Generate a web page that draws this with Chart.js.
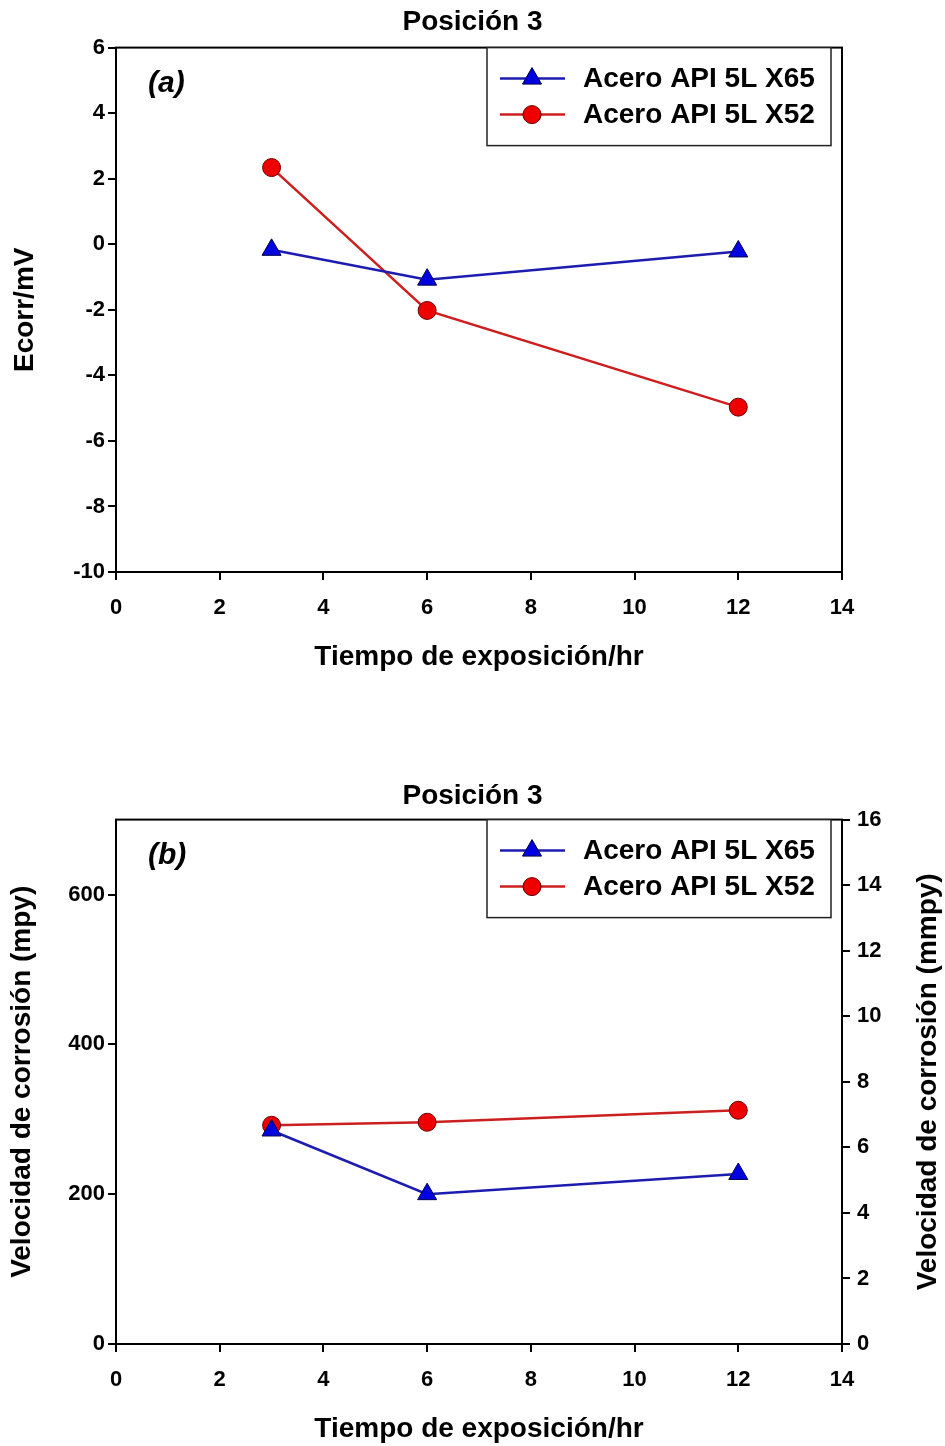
<!DOCTYPE html>
<html>
<head>
<meta charset="utf-8">
<title>Posición 3</title>
<script src="https://cdn.jsdelivr.net/npm/chart.js@4.4.0/dist/chart.umd.min.js"></script>
<style>
    body { margin: 0; background: #fff; }
    .panel { position: absolute; left: 0; width: 945px; height: 700px; }
</style>
</head>
<body>
<div class="panel" style="top: 0px;"><canvas id="chartA" width="945" height="700"></canvas></div>
<div class="panel" style="top: 746px;"><canvas id="chartB" width="945" height="700"></canvas></div>
<script>

// exposure times (hr)
const times = [3, 6, 12];
const seriesNames = ['Acero API 5L X65', 'Acero API 5L X52'];

// panel (a): Ecorr / mV
const ecorrX65 = [-0.17, -1.08, -0.22];
const ecorrX52 = [2.34, -2.02, -4.97];

// panel (b): corrosion rate / mpy
const rateX65 = [285, 200, 227];
const rateX52 = [292, 296, 312];

const SANS = '"Liberation Sans", Arial, sans-serif';
const tickFont = { family: SANS, size: 22, weight: 'bold' };
const titleFont = { family: SANS, size: 28, weight: 'bold' };

Chart.defaults.color = '#000';

function pairs(xs, ys) {
    return xs.map((x, i) => ({ x: x, y: ys[i] }));
}

function blueSet(values) {
    return {
        label: seriesNames[0],
        data: pairs(times, values),
        yAxisID: 'y',
        borderColor: '#1c1cb0',
        borderWidth: 2.5,
        pointStyle: 'triangle',
        pointRadius: 11,
        pointBackgroundColor: '#0000e0',
        pointBorderColor: '#00004a',
        pointBorderWidth: 1,
        tension: 0
    };
}

function redSet(values) {
    return {
        label: seriesNames[1],
        data: pairs(times, values),
        yAxisID: 'y',
        borderColor: '#cc1f1f',
        borderWidth: 2.5,
        pointStyle: 'circle',
        pointRadius: 9,
        pointBackgroundColor: '#ee0000',
        pointBorderColor: '#6a0000',
        pointBorderWidth: 1,
        tension: 0
    };
}

// frame, panel letter, boxed legend inside the plot and the upward right title
const framePlugin = {
    id: 'frame',
    afterDraw(chart, args, opts) {
        const ctx = chart.ctx;
        const a = chart.chartArea;
        ctx.save();
        ctx.strokeStyle = '#000';
        ctx.lineWidth = 2;
        ctx.strokeRect(a.left, a.top, a.right - a.left, a.bottom - a.top);

        ctx.fillStyle = '#000';
        ctx.font = 'italic bold 30px ' + SANS;
        ctx.textBaseline = 'middle';
        ctx.textAlign = 'left';
        ctx.fillText(opts.letter, a.left + 32, a.top + 36);

        const lx = a.right - 355, ly = a.top, lw = 344, lh = 98;
        ctx.fillStyle = '#fff';
        ctx.fillRect(lx, ly, lw, lh);
        ctx.strokeStyle = '#222';
        ctx.lineWidth = 1.5;
        ctx.strokeRect(lx, ly, lw, lh);

        chart.data.datasets.forEach((ds, i) => {
            const y = ly + 31 + i * 36;
            ctx.strokeStyle = ds.borderColor;
            ctx.lineWidth = ds.borderWidth;
            ctx.beginPath();
            ctx.moveTo(lx + 13, y);
            ctx.lineTo(lx + 78, y);
            ctx.stroke();
            ctx.fillStyle = ds.pointBackgroundColor;
            ctx.strokeStyle = ds.pointBorderColor;
            ctx.lineWidth = 1;
            Chart.helpers.drawPoint(ctx, { pointStyle: ds.pointStyle, radius: ds.pointRadius, borderWidth: 1, rotation: 0 }, lx + 45, y);
            ctx.fillStyle = '#000';
            ctx.font = 'bold 28px ' + SANS;
            ctx.fillText(ds.label, lx + 96, y + 1);
        });

        if (opts.rightTitle) {
            ctx.translate(928, (a.top + a.bottom) / 2);
            ctx.rotate(-Math.PI / 2);
            ctx.textAlign = 'center';
            ctx.fillStyle = '#000';
            ctx.font = 'bold 28px ' + SANS;
            ctx.fillText(opts.rightTitle, 0, 0);
        }
        ctx.restore();
    }
};

const axisGrid = { drawOnChartArea: false, tickLength: 8, color: '#000', lineWidth: 2 };
const axisBorder = { color: '#000', width: 2 };

function xAxis(height, padBottom) {
    return {
        type: 'linear',
        min: 0,
        max: 14,
        ticks: { stepSize: 2, font: tickFont, color: '#000', padding: 15 },
        grid: axisGrid,
        border: axisBorder,
        title: { display: true, text: 'Tiempo de exposición/hr', font: titleFont, color: '#000', padding: { top: 0, bottom: padBottom } },
        afterFit(s) { s.height = height; }
    };
}

// (a) Ecorr
new Chart(document.getElementById('chartA'), {
    type: 'line',
    data: { datasets: [blueSet(ecorrX65), redSet(ecorrX52)] },
    options: {
        responsive: false,
        animation: false,
        devicePixelRatio: 1,
        layout: { padding: 0 },
        scales: {
            x: xAxis(128, 26),
            y: {
                min: -10,
                max: 6,
                ticks: { stepSize: 2, font: tickFont, color: '#000', padding: 3 },
                grid: axisGrid,
                border: axisBorder,
                title: { display: true, text: 'Ecorr/mV', font: titleFont, color: '#000', padding: { top: 8, bottom: 0 } },
                afterFit(s) { s.width = 116; }
            },
            // empty right margin so the title stays centred on the page
            yPad: {
                position: 'right',
                ticks: { display: false },
                grid: { display: false },
                border: { display: false },
                afterFit(s) { s.width = 103; }
            }
        },
        plugins: {
            legend: { display: false },
            tooltip: { enabled: false },
            title: { display: true, text: 'Posición 3', font: titleFont, color: '#000', padding: { top: 5, bottom: 9 } },
            frame: { letter: '(a)' }
        }
    },
    plugins: [framePlugin]
});

// (b) corrosion rate
new Chart(document.getElementById('chartB'), {
    type: 'line',
    data: { datasets: [blueSet(rateX65), redSet(rateX52)] },
    options: {
        responsive: false,
        animation: false,
        devicePixelRatio: 1,
        layout: { padding: 0 },
        scales: {
            x: xAxis(102, 0),
            y: {
                position: 'left',
                min: 0,
                max: 700,
                ticks: { stepSize: 200, includeBounds: false, font: tickFont, color: '#000', padding: 3 },
                grid: axisGrid,
                border: axisBorder,
                title: { display: true, text: 'Velocidad de corrosión (mpy)', font: titleFont, color: '#000', padding: { top: 5, bottom: 0 } },
                afterFit(s) { s.width = 116; }
            },
            y2: {
                position: 'right',
                min: 0,
                max: 16,
                ticks: { stepSize: 2, font: tickFont, color: '#000', padding: 7 },
                grid: axisGrid,
                border: axisBorder,
                afterFit(s) { s.width = 103; }
            }
        },
        plugins: {
            legend: { display: false },
            tooltip: { enabled: false },
            title: { display: true, text: 'Posición 3', font: titleFont, color: '#000', padding: { top: 33, bottom: 7 } },
            frame: { letter: '(b)', rightTitle: 'Velocidad de corrosión (mmpy)' }
        }
    },
    plugins: [framePlugin]
});

</script>
</body>
</html>
